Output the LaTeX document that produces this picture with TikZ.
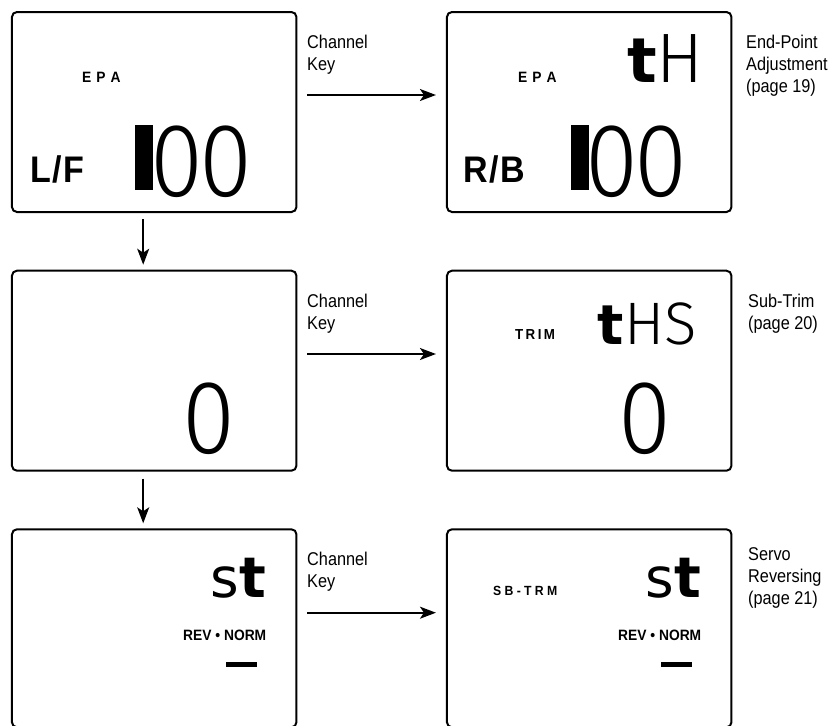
\documentclass[tikz,border=0pt]{standalone}
\usepackage{fontspec}
\setmainfont{Liberation Sans}
\newfontfamily\lblfont[FakeStretch=0.88]{Liberation Sans}
\newfontfamily\condfont[FakeStretch=0.92]{Liberation Sans}
\newfontfamily\thinfont{Fira Sans Light}
\newfontfamily\digfont[FakeStretch=0.92]{Fira Sans Light}
\newfontfamily\djvfont{DejaVu Sans}
\usetikzlibrary{arrows.meta}
\begin{document}
\begin{tikzpicture}[x=1pt,y=-1pt,
  dbox/.style={draw, line width=2pt, rounded corners=5pt, minimum width=284.5pt, minimum height=200pt, inner sep=0pt},
  lowbox/.style={dbox, minimum height=198pt},
  arr/.style={line width=1.8pt, -{Stealth[length=16pt,width=12pt,inset=4pt]}},
  lbl/.style={anchor=base west, inner sep=0pt, font=\lblfont\fontsize{18.5}{22}\selectfont},
  tinytxt/.style={anchor=base west, inner sep=0pt, font=\condfont\bfseries\fontsize{15}{17}\selectfont},
  chan/.style={anchor=base west, inner sep=0pt, font=\condfont\bfseries\fontsize{37}{40}\selectfont},
  dig/.style={anchor=base east, inner sep=0pt, font=\digfont\fontsize{104.5}{110}\selectfont},
  glyphs/.style={anchor=base east, inner sep=0pt},
  revn/.style={anchor=base west, inner sep=0pt, font=\condfont\bfseries\fontsize{15}{17}\selectfont},
  blackbar/.style={fill=black, draw=none}
]
\useasboundingbox (0,0) rectangle (831,726);

% boxes
\node[dbox] (b1) at (154.2,112) {};
\node[dbox] (b2) at (589.2,112) {};
\node[dbox] (b3) at (154.2,370.7) {};
\node[dbox] (b4) at (589.2,370.7) {};
\node[lowbox] (b5) at (154.2,628.3) {};
\node[lowbox] (b6) at (589.2,628.3) {};

% arrows
\draw[arr, shorten <=6pt, shorten >=5pt] ([xshift=-11pt]b1.south) -- ([xshift=-11pt]b3.north);
\draw[arr, shorten <=7pt, shorten >=5pt] ([xshift=-11pt]b3.south) -- ([xshift=-11pt]b5.north);
\draw[arr, shorten <=10pt, shorten >=10pt] ([yshift=17pt]b1.east) -- ([yshift=17pt]b2.west);
\draw[arr, shorten <=10pt, shorten >=10pt] ([yshift=16.7pt]b3.east) -- ([yshift=16.7pt]b4.west);
\draw[arr, shorten <=10pt, shorten >=10pt] ([yshift=15.6pt]b5.east) -- ([yshift=15.6pt]b6.west);

% side labels
\node[lbl] (k1) at (307,48.3) {\parbox[t]{120pt}{Channel\\Key}};
\node[lbl] (k2) at (307,307) {\parbox[t]{120pt}{Channel\\Key}};
\node[lbl] (k3) at (307,565.5) {\parbox[t]{120pt}{Channel\\Key}};
\node[lbl] (r1) at (746,48.3) {\parbox[t]{120pt}{End-Point\\Adjustment\\(page 19)}};
\node[lbl] (r2) at (748,307) {\parbox[t]{120pt}{Sub-Trim\\(page 20)}};
\node[lbl] (r3) at (748,560) {\parbox[t]{120pt}{Servo\\Reversing\\(page 21)}};

% box 1
\node[tinytxt] (epa1) at (82,82) {E\hspace{5pt}P\hspace{5pt}A};
\node[chan] (lf) at (30,182) {L\kern1.5pt/\kern1.5pt F};
\fill[blackbar] (135,125) rectangle (153,190);
\node[dig] (d1) at (253,196) {0\kern-3pt 0};

% box 2
\node[tinytxt] (epa2) at (518,82) {E\hspace{5pt}P\hspace{5pt}A};
\node[chan] (rb) at (463,182) {R\kern1.5pt/\kern1.5pt B};
\fill[blackbar] (571,125) rectangle (589,190);
\node[dig] (d2) at (688,196) {0\kern-3pt 0};
\node[glyphs] (th) at (704,82) {{\djvfont\bfseries\fontsize{62}{70}\selectfont t}{\thinfont\fontsize{70}{75}\selectfont H}};

% box 3
\node[dig] (d3) at (236,453.5) {0};

% box 4
\node[tinytxt, font=\condfont\bfseries\fontsize{14.5}{16}\selectfont] (trim) at (515,339.5) {T\kern2.4pt R\kern2.4pt I\kern2.4pt M};
\node[glyphs] (ths) at (697,344) {{\djvfont\bfseries\fontsize{55}{60}\selectfont t}{\thinfont\fontsize{60}{64}\selectfont HS}};
\node[dig] (d4) at (672,453.5) {0};

% box 5
\node[glyphs] (st1) at (266,597) {{\djvfont\fontsize{55}{60}\selectfont s}{\djvfont\bfseries\fontsize{56}{60}\selectfont t}};
\node[revn] (rev1) at (183,640) {REV • NORM};
\fill[blackbar] (226,662) rectangle (257,667);

% box 6
\node[tinytxt, font=\condfont\bfseries\fontsize{13.3}{15}\selectfont] (sbtrm) at (493,595) {S\kern3.3pt B\kern3.3pt -\kern3.3pt T\kern3.3pt R\kern3.3pt M};
\node[glyphs] (st2) at (701,597) {{\djvfont\fontsize{55}{60}\selectfont s}{\djvfont\bfseries\fontsize{56}{60}\selectfont t}};
\node[revn] (rev2) at (618,640) {REV • NORM};
\fill[blackbar] (661,662) rectangle (692,667);
\end{tikzpicture}
\end{document}
